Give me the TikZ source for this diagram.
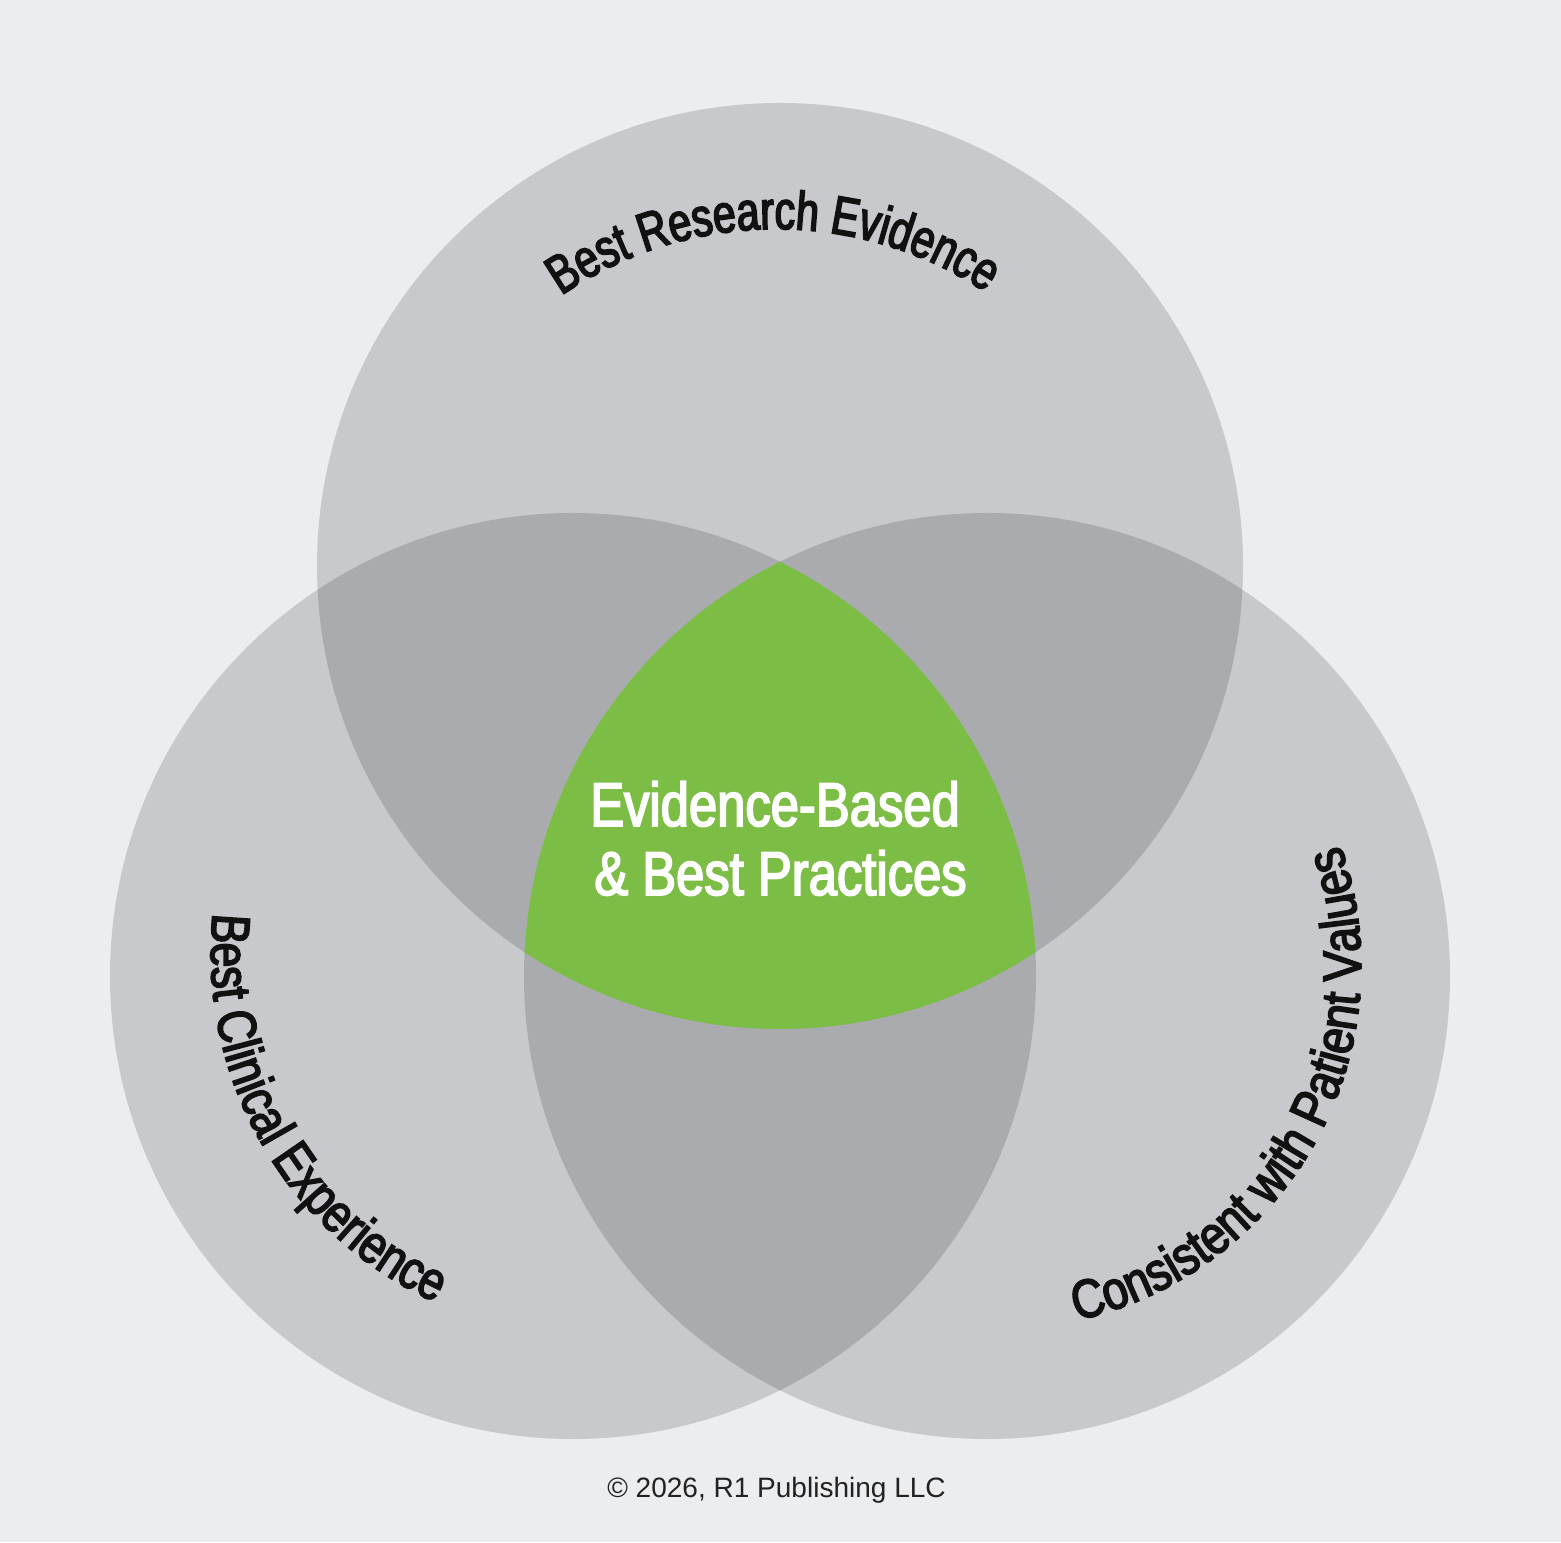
\documentclass[tikz,border=0pt]{standalone}
\usepackage{fontspec}
\setmainfont{Liberation Sans}
\newfontfamily\topfont[FakeStretch=0.76,FakeBold=3]{Liberation Sans}
\newfontfamily\leftfont[FakeStretch=0.82,FakeBold=3]{Liberation Sans}
\newfontfamily\rightfont[FakeStretch=0.84,FakeBold=3]{Liberation Sans}
\newfontfamily\centfont[FakeStretch=0.82,FakeBold=2.8]{Liberation Sans}
\usetikzlibrary{decorations.text}
\definecolor{bgcol}{HTML}{ECEDEF}
\definecolor{onecol}{HTML}{C8C9CC}
\definecolor{twocol}{HTML}{AAABAE}
\definecolor{greencol}{HTML}{7BBD45}
\definecolor{txtcol}{HTML}{111111}
\definecolor{copycol}{HTML}{222222}
\tikzset{
  arclabel/.style 2 args={decorate, decoration={text along path, text align=center, text color=txtcol, text={|#1\fontsize{15.4}{18}\selectfont|#2}}},
  centerlabel/.style={anchor=base, text=white, inner sep=0pt, font=\centfont\fontsize{17.6}{20}\selectfont},
  copylabel/.style={anchor=base, text=copycol, inner sep=0pt, font=\fontsize{7.97}{9.5}\selectfont}
}
\begin{document}
\begin{tikzpicture}[x=0.01cm,y=0.01cm]
\useasboundingbox (0,0) rectangle (1561,1542);
\fill[bgcol] (0,0) rectangle (1561,1542);
\def\rad{463}
\coordinate (T) at (780,976);
\coordinate (L) at (573,566);
\coordinate (R) at (987,566);
% single circles
\fill[onecol] (T) circle[radius=\rad];
\fill[onecol] (L) circle[radius=\rad];
\fill[onecol] (R) circle[radius=\rad];
% pairwise overlaps
\begin{scope}
  \clip (T) circle[radius=\rad];
  \fill[twocol] (L) circle[radius=\rad];
  \fill[twocol] (R) circle[radius=\rad];
\end{scope}
\begin{scope}
  \clip (L) circle[radius=\rad];
  \fill[twocol] (R) circle[radius=\rad];
\end{scope}
% triple overlap
\begin{scope}
  \clip (T) circle[radius=\rad];
  \clip (L) circle[radius=\rad];
  \fill[greencol] (R) circle[radius=\rad];
\end{scope}
% curved labels
\coordinate (TT) at (776,934);
\coordinate (LT) at (595,589);
\coordinate (RT) at (998,576);
\path[arclabel={\topfont}{Best Research Evidence}] ([shift={(135.45:379)}]TT) arc[start angle=135.45, end angle=45.45, radius=379];
\path[arclabel={\leftfont}{Best Clinical Experience}] ([shift={(164.75:384)}]LT) arc[start angle=164.75, end angle=254.75, radius=384];
\path[arclabel={\rightfont}{Consistent with Patient Values}] ([shift={(-89:363)}]RT) arc[start angle=-89, end angle=31, radius=363];
% center text
\node[centerlabel] (ebp1) at (775,716) {Evidence-Based};
\node[centerlabel] (ebp2) at (780.5,647) {\& Best Practices};
% copyright
\node[copylabel] (copy) at (776.5,45) {© 2026, R1 Publishing LLC};
\end{tikzpicture}
\end{document}
